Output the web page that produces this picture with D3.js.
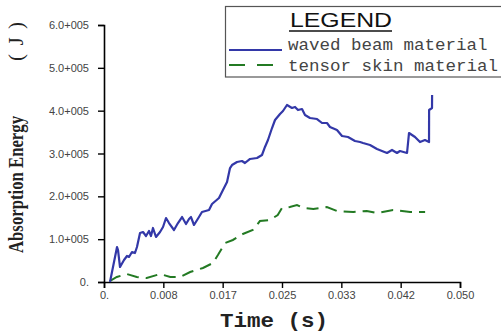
<!DOCTYPE html>
<html lang="en">
<head>
<meta charset="UTF-8">
<title>Absorption Energy vs Time</title>
<script src="https://d3js.org/d3.v7.min.js"></script>
<style>
    body { margin: 0; background: #fff; }
    svg { display: block; background: #fff; }
    .tick text { font-family: Arial, "Liberation Sans", sans-serif; font-size: 11px; fill: #444; }
</style>
</head>
<body>
<svg width="501" height="334"></svg>
<script>
    // tick values and their printed labels
    const xTicks = [0, 0.05 / 6, 0.1 / 6, 0.15 / 6, 0.2 / 6, 0.25 / 6, 0.05];
    const xTickLabels = ["0.", "0.008", "0.017", "0.025", "0.033", "0.042", "0.050"];
    const yTicks = [0, 1e5, 2e5, 3e5, 4e5, 5e5, 6e5];
    const yTickLabels = ["0.", "1.0+005", "2.0+005", "3.0+005", "4.0+005", "5.0+005", "6.0+005"];

    // waved beam material
    const beamTime = [0.00084, 0.00183, 0.00197, 0.00225, 0.00281, 0.00323, 0.00351, 0.00393, 0.00435, 0.00463,
        0.00506, 0.00548, 0.0059, 0.00632, 0.0066, 0.00688, 0.0073, 0.00787, 0.00829, 0.00871,
        0.00913, 0.00983, 0.01039, 0.01096, 0.01152, 0.01194, 0.01222, 0.01264, 0.01334, 0.01376,
        0.01475, 0.01517, 0.01615, 0.01671, 0.01728, 0.0177, 0.01798, 0.01868, 0.01938, 0.0198,
        0.02051, 0.02149, 0.02219, 0.02261, 0.02303, 0.0236, 0.02402, 0.02472, 0.02514, 0.0257,
        0.0264, 0.02683, 0.02725, 0.02781, 0.02823, 0.02893, 0.02992, 0.03062, 0.03132, 0.03174,
        0.03272, 0.03343, 0.03427, 0.03525, 0.03596, 0.03638, 0.03736, 0.03834, 0.03904, 0.03975,
        0.04045, 0.04115, 0.04157, 0.04256, 0.04284, 0.04368, 0.04438, 0.04508, 0.04565, 0.04566,
        0.04607, 0.04608];
    const beamEnergy = [0, 81700, 74700, 35000, 51400, 60700, 58400, 70000, 67700, 81700,
        114400, 116700, 107400, 119100, 107400, 126100, 105100, 116700, 128400, 149400,
        137700, 121400, 137700, 151700, 135400, 147100, 151700, 133100, 151700, 163400,
        168100, 182100, 196100, 214800, 233500, 266100, 273100, 280200, 282500, 277800,
        287200, 289500, 296500, 315200, 331500, 359500, 378200, 392200, 399200, 413200,
        406200, 408600, 401500, 403900, 389900, 382900, 380500, 371200, 371200, 361900,
        354900, 340900, 338500, 329200, 326800, 324500, 319800, 310500, 305800, 301200,
        308200, 301200, 305800, 301200, 347900, 338500, 326800, 331500, 326800, 401500,
        406200, 436600];

    // tensor skin material
    const skinTime = [0.0008, 0.0018, 0.0032, 0.0046, 0.0060, 0.0079, 0.0093, 0.0107, 0.0121, 0.0139,
        0.0153, 0.0160, 0.0170, 0.0181, 0.0195, 0.0209, 0.0219, 0.0233, 0.0244, 0.0250,
        0.0261, 0.0271, 0.0280, 0.0294, 0.0313, 0.0327, 0.0350, 0.0369, 0.0383, 0.0406,
        0.0430, 0.0451];
    const skinEnergy = [2300, 11700, 18700, 11700, 9300, 18700, 11700, 11700, 23300, 32700,
        44400, 63000, 91000, 98100, 112100, 121400, 142400, 144700, 156400, 172800,
        175100, 179800, 172800, 170400, 175100, 165800, 163400, 165800, 161100, 168100,
        163400, 163400];

    const svg = d3.select("svg");

    const x = d3.scaleLinear().domain([0, 0.05]).range([104, 460]);
    const y = d3.scaleLinear().domain([0, 6e5]).range([282, 25]);

    const xAxis = svg.append("g")
        .attr("transform", "translate(0,282)")
        .call(d3.axisBottom(x).tickValues(xTicks).tickSize(6).tickPadding(3)
            .tickFormat((d, i) => xTickLabels[i]));
    const yAxis = svg.append("g")
        .attr("transform", "translate(104,0)")
        .call(d3.axisLeft(y).tickValues(yTicks).tickSize(6).tickPadding(9)
            .tickFormat((d, i) => yTickLabels[i]));
    [xAxis, yAxis].forEach(g => {
        g.select(".domain").attr("stroke", "#000").attr("stroke-width", 1.6);
        g.selectAll(".tick line").attr("stroke", "#000").attr("stroke-width", 1.4);
    });

    const line = d3.line().x(d => x(d[0])).y(d => y(d[1]));
    const beam = beamTime.map((t, i) => [t, beamEnergy[i]]);
    const skin = skinTime.map((t, i) => [t, skinEnergy[i]]);

    svg.append("path").datum(skin)
        .attr("d", line).attr("fill", "none")
        .attr("stroke", "#237a23").attr("stroke-width", 2)
        .attr("stroke-dasharray", "12,7");
    svg.append("path").datum(beam)
        .attr("d", line).attr("fill", "none")
        .attr("stroke", "#3338a8").attr("stroke-width", 2.2)
        .attr("stroke-linejoin", "round");

    // axis titles
    svg.append("text")
        .attr("transform", "translate(23,253) rotate(-90)")
        .attr("font-family", "'Liberation Serif', 'DejaVu Serif', serif")
        .attr("font-weight", "bold").attr("font-size", 22)
        .attr("textLength", 137).attr("lengthAdjust", "spacingAndGlyphs")
        .attr("fill", "#222")
        .text("Absorption Energy");
    svg.append("text")
        .attr("transform", "translate(23,61) rotate(-90)")
        .attr("font-family", "'Liberation Serif', 'DejaVu Serif', serif")
        .attr("font-size", 21).attr("fill", "#222")
        .attr("textLength", 39).attr("lengthAdjust", "spacing")
        .text("( J )");
    svg.append("text")
        .attr("x", 220).attr("y", 327)
        .attr("font-family", "'Liberation Mono', 'DejaVu Sans Mono', monospace")
        .attr("font-weight", "bold").attr("font-size", 21)
        .attr("textLength", 108).attr("lengthAdjust", "spacingAndGlyphs")
        .attr("fill", "#222")
        .text("Time (s)");

    // legend
    const legend = svg.append("g");
    legend.append("rect")
        .attr("x", 225.5).attr("y", 6.5).attr("width", 290).attr("height", 70.5)
        .attr("fill", "#fff").attr("stroke", "#555").attr("stroke-width", 1.2);
    legend.append("text")
        .attr("x", 290).attr("y", 27)
        .attr("font-family", "Arial, 'Liberation Sans', sans-serif")
        .attr("font-size", 20).attr("fill", "#111")
        .attr("textLength", 102).attr("lengthAdjust", "spacingAndGlyphs")
        .text("LEGEND");
    legend.append("line")
        .attr("x1", 289).attr("x2", 392).attr("y1", 31).attr("y2", 31)
        .attr("stroke", "#111").attr("stroke-width", 1.5);
    const items = [
        { name: "waved beam material", color: "#3338a8", dash: null, y: 50, base: 50 },
        { name: "tensor skin material", color: "#237a23", dash: "16,12", y: 65, base: 71 }
    ];
    items.forEach(it => {
        legend.append("line")
            .attr("x1", 229).attr("x2", 282).attr("y1", it.y).attr("y2", it.y)
            .attr("stroke", it.color).attr("stroke-width", 2)
            .attr("stroke-dasharray", it.dash);
        legend.append("text")
            .attr("x", 288).attr("y", it.base)
            .attr("font-family", "'Liberation Mono', 'DejaVu Sans Mono', monospace")
            .attr("font-size", 16).attr("fill", "#444")
            .attr("textLength", it.name.length * 10.5).attr("lengthAdjust", "spacingAndGlyphs")
            .text(it.name);
    });
</script>
</body>
</html>
